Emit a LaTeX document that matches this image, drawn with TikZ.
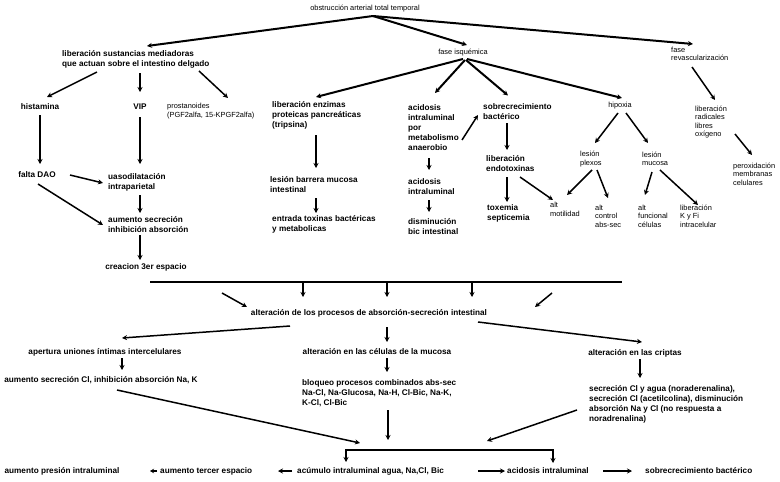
\documentclass[tikz,border=0pt]{standalone}
\usepackage{fontspec}
\setmainfont{Liberation Sans}
\usetikzlibrary{arrows.meta,calc}
\begin{document}
\begin{tikzpicture}[x=1pt,y=-1pt,
  bt/.style={font=\fontsize{8.2}{10}\selectfont\bfseries, inner sep=0pt, align=left},
  rt/.style={font=\fontsize{7.4}{8.5}\selectfont, inner sep=0pt, align=left},
  arr/.style={line width=1.5pt, -{Stealth[length=5pt,width=5pt]}},
  tarr/.style={line width=2pt, -{Stealth[length=5pt,width=5pt]}},
  ln/.style={line width=2pt}]
\fill[white] (0,0) rectangle (780,482);
\useasboundingbox (0,0) rectangle (780,482);

% ---- top
\node[rt] (obst) at (365,9) {obstrucción arterial total temporal};
\coordinate (apex) at (373,16);
\node[bt, anchor=west] (lsm) at (62,59.5) {liberación sustancias mediadoras\\que actuan sobre el intestino delgado};
\node[rt] (fisq) at (463,53) {fase isquémica};
\node[rt, anchor=west] (frev) at (671,54) {fase\\revascularización};

% ---- left branch
\node[bt] (hist) at (40,107) {histamina};
\node[bt] (vip) at (140,107) {VIP};
\node[rt, anchor=west] (prost) at (167,111) {prostanoides\\(PGF2alfa, 15-KPGF2alfa)};
\node[bt] (dao) at (37,175) {falta DAO};
\node[bt, anchor=west] (vaso) at (108,182) {uasodilatación\\intraparietal};
\node[bt, anchor=west] (aum) at (108,225) {aumento secreción\\inhibición absorción};
\node[bt] (crea) at (146,267) {creacion 3er espacio};

% ---- ischaemic branch
\node[bt, anchor=west] (lenz) at (272,115) {liberación enzimas\\proteicas pancreáticas\\(tripsina)};
\node[bt, anchor=west] (lbar) at (270,185) {lesión barrera mucosa\\intestinal};
\node[bt, anchor=west] (entr) at (272,224.5) {entrada toxinas bactéricas\\y metabolicas};
\node[bt, anchor=west] (acid1) at (408,127.5) {acidosis\\intraluminal\\por\\metabolismo\\anaerobio};
\node[bt, anchor=west] (acid2) at (408,186.5) {acidosis\\intraluminal};
\node[bt, anchor=west] (dism) at (408,226.5) {disminución\\bic intestinal};
\node[bt, anchor=west] (sobre) at (483,111.5) {sobrecrecimiento\\bactérico};
\node[bt, anchor=west] (lendo) at (486,163.5) {liberación\\endotoxinas};
\node[bt, anchor=west] (toxe) at (487,213.5) {toxemia\\septicemia};
\node[rt] (hip) at (620,106) {hipoxia};
\node[rt, anchor=west] (lplex) at (580,159) {lesión\\plexos};
\node[rt, anchor=west] (lmuc) at (642,159) {lesión\\mucosa};
\node[rt, anchor=west] (amot) at (550,209.5) {alt\\motilidad};
\node[rt, anchor=west] (actrl) at (595,216) {alt\\control\\abs-sec};
\node[rt, anchor=west] (afunc) at (638,216) {alt\\funcional\\células};
\node[rt, anchor=west] (libk) at (680,216) {liberación\\K y Fi\\intracelular};

% ---- revascularisation branch
\node[rt, anchor=west] (lrad) at (695,122) {liberación\\radicales\\libres\\oxígeno};
\node[rt, anchor=west] (perox) at (733,174) {peroxidación\\membranas\\celulares};

% ---- lower part
\coordinate (barL) at (150,282);
\coordinate (barR) at (622,282);
\coordinate (bar1) at (303,282);
\coordinate (bar2) at (387,282);
\coordinate (bar3) at (472,282);
\coordinate (d1) at (222,293);
\coordinate (d2) at (552,293);
\node[bt] (alt) at (369,313) {alteración de los procesos de absorción-secreción intestinal};
\node[bt] (aper) at (105,352) {apertura uniones íntimas intercelulares};
\node[bt] (aumcl) at (101,380) {aumento secreción Cl, inhibición absorción Na, K};
\node[bt] (acel) at (377,352) {alteración en las células de la mucosa};
\node[bt, anchor=west] (bloq) at (302,393) {bloqueo procesos combinados abs-sec\\Na-Cl, Na-Glucosa, Na-H, Cl-Bic, Na-K,\\K-Cl, Cl-Bic};
\node[bt] (acrip) at (635,353) {alteración en las criptas};
\node[bt, anchor=west] (secr) at (589,404) {secreción Cl y agua (noraderenalina),\\secreción Cl (acetilcolina), disminución\\absorción Na y Cl (no respuesta a\\noradrenalina)};

\coordinate (j1) at (360,443);
\coordinate (j2) at (388,440);
\coordinate (j3) at (487,441);
\coordinate (jL) at (346,450);
\coordinate (jR) at (553,450);

\node[bt] (apres) at (62,471) {aumento presión intraluminal};
\node[bt, anchor=west] (atercer) at (160,471) {aumento tercer espacio};
\node[bt, anchor=west] (acum) at (297,471) {acúmulo intraluminal agua, Na,Cl, Bic};
\node[bt, anchor=west] (acidb) at (507,471) {acidosis intraluminal};
\node[bt, anchor=west] (sobreb) at (645,471) {sobrecrecimiento bactérico};

% ---- connectors: top
\draw[tarr] (apex) -- ($(lsm.west)+(85,-13.5)$);
\draw[tarr] (apex) -- ($(fisq)+(4,-8)$);
\draw[tarr] (apex) -- ($(frev.west)+(22,-10)$);

% left branch
\draw[arr] ($(lsm.west)+(35,12.5)$) -- ($(hist)+(7,-10)$);
\draw[arr] ($(lsm.west)+(78,13.5)$) -- ($(vip)+(0,-15)$);
\draw[arr] ($(lsm.west)+(137,11.5)$) -- ($(prost.west)+(61,-13)$);
\draw[arr] ($(hist)+(0,8)$) -- ($(dao)+(3,-11)$);
\draw[arr] ($(vip)+(0,10)$) -- ($(vaso.west)+(32,-18)$);
\draw[arr] ($(dao)+(33,0)$) -- ($(vaso.west)+(-5,1)$);
\draw[arr] ($(dao)+(1,9)$) -- ($(aum.west)+(-5,0)$);
\draw[arr] ($(vaso.west)+(32,13)$) -- ($(aum.west)+(32,-12)$);
\draw[arr] ($(aum.west)+(32,10)$) -- ($(crea)+(-6,-7)$);

% ischaemic branch
\draw[tarr] ($(fisq)+(0,6)$) -- ($(lenz.west)+(44,-18)$);
\draw[tarr] ($(fisq)+(2,7)$) -- ($(acid1.west)+(27,-34.5)$);
\draw[tarr] ($(fisq)+(3,7)$) -- ($(sobre.west)+(25,-16)$);
\draw[tarr] ($(fisq)+(4,6)$) -- ($(hip)+(2,-8)$);
\draw[arr] ($(lenz.west)+(44,20)$) -- ($(lbar.west)+(46,-17)$);
\draw[arr] ($(lbar.west)+(46,13)$) -- ($(entr.west)+(44,-11.5)$);
\draw[arr] ($(acid1.west)+(21,30.5)$) -- ($(acid2.west)+(21,-16.5)$);
\draw[arr] ($(acid2.west)+(21,13.5)$) -- ($(dism.west)+(21,-14.5)$);
\draw[arr] ($(acid1.west)+(54,12.5)$) -- ($(sobre.west)+(-5,3.5)$);
\draw[arr] ($(sobre.west)+(24,11.5)$) -- ($(lendo.west)+(21,-13.5)$);
\draw[arr] ($(lendo.west)+(21,13.5)$) -- ($(toxe.west)+(20,-11.5)$);
\draw[arr] ($(lendo.west)+(34,13.5)$) -- ($(amot.west)+(3,-9.5)$);
\draw[arr] ($(hip)+(-2,7)$) -- ($(lplex.west)+(15,-16)$);
\draw[arr] ($(hip)+(6,7)$) -- ($(lmuc.west)+(6,-16)$);
\draw[arr] ($(lplex.west)+(12,11)$) -- ($(amot.west)+(17,-14.5)$);
\draw[arr] ($(lplex.west)+(17,11)$) -- ($(actrl.west)+(13,-18)$);
\draw[arr] ($(lmuc.west)+(10,13)$) -- ($(afunc.west)+(7,-21)$);
\draw[arr] ($(lmuc.west)+(18,11)$) -- ($(libk.west)+(18,-11)$);

% revascularisation
\draw[arr] ($(frev.west)+(21,13)$) -- ($(lrad.west)+(20,-22)$);
\draw[arr] ($(lrad.west)+(40,12)$) -- ($(perox.west)+(19,-19)$);

% bar and lower part
\draw[ln] (barL) -- (barR);
\draw[arr] (bar1) -- ($(alt)+(-66,-16)$);
\draw[arr] (bar2) -- ($(alt)+(18,-16)$);
\draw[arr] (bar3) -- ($(alt)+(103,-16)$);
\draw[arr] (d1) -- ($(alt)+(-122,-6)$);
\draw[arr] (d2) -- ($(alt)+(166,-6)$);
\draw[arr] ($(alt)+(-79,13)$) -- ($(aper)+(17,-14)$);
\draw[arr] ($(alt)+(18,14)$) -- ($(acel)+(10,-10)$);
\draw[arr] ($(alt)+(109,9)$) -- ($(acrip)+(7,-11)$);
\draw[arr] ($(aper)+(17,6)$) -- ($(aumcl)+(21,-10)$);
\draw[arr] ($(acel)+(10,6)$) -- ($(bloq.west)+(85,-21)$);
\draw[arr] ($(acrip)+(5,6)$) -- ($(secr.west)+(51,-26)$);
\draw[arr] ($(aumcl)+(16,10)$) -- (j1);
\draw[arr] ($(bloq.west)+(86,17)$) -- (j2);
\draw[arr] ($(secr.west)+(-12,6)$) -- (j3);
\draw[ln, line cap=rect] (jL) -- (jR);
\draw[arr] (jL) -- ($(acum.west)+(49,-9)$);
\draw[arr] (jR) -- ($(acidb.west)+(46,-8)$);

% bottom row
\draw[line width=1.2pt, -{Stealth[length=4pt,width=4.5pt]}] ($(atercer.west)+(-3,0)$) -- ($(atercer.west)+(-10,0)$);
\draw[arr] ($(acum.west)+(-5,0)$) -- ($(acum.west)+(-19,0)$);
\draw[arr] ($(acidb.west)+(-29,0)$) -- ($(acidb.west)+(-2,0)$);
\draw[arr] ($(sobreb.west)+(-42,0)$) -- ($(sobreb.west)+(-13,0)$);
\end{tikzpicture}
\end{document}
